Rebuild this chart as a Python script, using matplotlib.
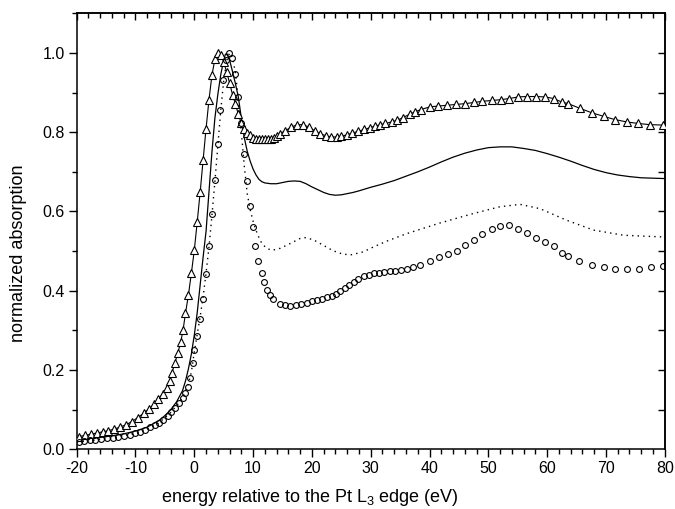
import matplotlib
matplotlib.use("Agg")
import matplotlib.pyplot as plt
from matplotlib.ticker import MultipleLocator, FixedLocator

plt.rcParams['font.family'] = ['Liberation Sans', 'DejaVu Sans']
plt.rcParams['mathtext.fontset'] = 'custom'
plt.rcParams['mathtext.rm'] = 'Liberation Sans'

# ---- data ----
tri_x = [-19.6, -18.6, -17.6, -16.6, -15.6, -14.6, -13.6, -12.6, -11.6, -10.6,
         -9.6, -8.6, -7.7, -6.8, -6.1, -5.4, -4.7, -4.2, -3.8, -3.3, -2.8, -2.3,
         -1.9, -1.5, -1.0, -0.5, 0.0, 0.5, 1.0, 1.5, 2.0, 2.5, 3.0, 3.5, 4.0,
         4.5, 5.0, 5.5, 6.0, 6.5, 7.0, 7.5, 8.0, 8.5, 9.0, 9.5, 10.0, 10.5,
         11.0, 11.5, 12.0, 12.5, 13.0, 13.5, 14.0, 14.5, 15.4, 16.4, 17.5, 18.5,
         19.5, 20.5, 21.4, 22.4, 23.3, 24.2, 25.0, 25.9, 26.9, 27.9, 28.9, 29.8,
         30.7, 31.6, 32.5, 33.6, 34.5, 35.5, 36.6, 37.5, 38.5, 40.1, 41.5, 43.0,
         44.5, 46.0, 47.6, 49.0, 50.6, 52.1, 53.6, 55.1, 56.5, 58.1, 59.6, 61.1,
         62.5, 63.6, 65.6, 67.6, 69.6, 71.5, 73.5, 75.5, 77.5, 79.7]
tri_y = [0.032, 0.035, 0.038, 0.041, 0.044, 0.047, 0.051, 0.056, 0.062, 0.070,
         0.080, 0.091, 0.102, 0.115, 0.127, 0.140, 0.154, 0.172, 0.193, 0.218, 0.243, 0.271,
         0.302, 0.343, 0.389, 0.444, 0.502, 0.574, 0.649, 0.730, 0.809, 0.882, 0.944, 0.984, 1.000,
         0.994, 0.977, 0.952, 0.924, 0.895, 0.870, 0.845, 0.822, 0.808, 0.799, 0.792, 0.786, 0.783,
         0.782, 0.782, 0.782, 0.783, 0.784, 0.786, 0.790, 0.796, 0.803, 0.812, 0.819, 0.819,
         0.813, 0.803, 0.796, 0.791, 0.788, 0.788, 0.790, 0.793, 0.798, 0.802, 0.807, 0.811,
         0.815, 0.819, 0.822, 0.826, 0.830, 0.837, 0.845, 0.851, 0.857, 0.864, 0.866, 0.868,
         0.870, 0.872, 0.875, 0.878, 0.880, 0.882, 0.885, 0.889, 0.890, 0.890, 0.889, 0.885,
         0.876, 0.872, 0.860, 0.849, 0.840, 0.832, 0.826, 0.822, 0.819, 0.818]

circ_x = [-19.6, -18.7, -17.7, -16.8, -15.8, -14.8, -13.9, -12.9, -12.0, -11.0,
          -10.1, -9.2, -8.4, -7.5, -6.7, -6.0, -5.3, -4.5, -3.9, -3.3, -2.6, -2.0,
          -1.6, -1.1, -0.7, -0.3, 0.0, 0.5, 1.0, 1.4, 2.0, 2.5, 3.0, 3.5, 3.95,
          4.45, 4.95, 5.4, 5.95, 6.45, 6.9, 7.45, 7.9, 8.45, 9.0, 9.47, 9.95, 10.4,
          10.9, 11.45, 11.9, 12.35, 12.8, 13.35, 14.5, 15.4, 16.3, 17.3, 18.2, 19.1,
          20.0, 20.9, 21.8, 22.6, 23.4, 24.1, 24.8, 25.6, 26.3, 27.1, 27.9, 28.8,
          29.7, 30.5, 31.4, 32.3, 33.2, 34.2, 35.2, 36.2, 37.2, 38.3, 40.1, 41.6,
          43.2, 44.6, 46.0, 47.5, 49.0, 50.6, 52.0, 53.6, 55.1, 56.6, 58.1, 59.6,
          61.1, 62.6, 63.6, 65.5, 67.6, 69.6, 71.5, 73.5, 75.6, 77.6, 79.7]
circ_y = [0.019, 0.021, 0.023, 0.024, 0.026, 0.028, 0.029, 0.032, 0.034, 0.037,
          0.040, 0.044, 0.049, 0.055, 0.061, 0.067, 0.075, 0.084, 0.094, 0.105, 0.117, 0.130,
          0.141, 0.158, 0.179, 0.218, 0.250, 0.286, 0.329, 0.380, 0.442, 0.512, 0.593, 0.680, 0.770,
          0.857, 0.931, 0.981, 1.000, 0.987, 0.948, 0.889, 0.822, 0.746, 0.677, 0.614, 0.561, 0.513,
          0.475, 0.445, 0.421, 0.403, 0.389, 0.378, 0.367, 0.363, 0.361, 0.363, 0.366, 0.370,
          0.373, 0.376, 0.379, 0.383, 0.387, 0.393, 0.399, 0.406, 0.414, 0.423, 0.429, 0.436,
          0.440, 0.444, 0.446, 0.448, 0.449, 0.450, 0.452, 0.455, 0.459, 0.465, 0.475, 0.484,
          0.492, 0.501, 0.515, 0.529, 0.544, 0.557, 0.563, 0.565, 0.557, 0.546, 0.534, 0.523,
          0.512, 0.495, 0.487, 0.475, 0.465, 0.459, 0.456, 0.455, 0.456, 0.459, 0.462]

solid_x = [-20, -18, -16, -14, -12, -10, -8, -6, -5, -4, -3, -2, -1.5, -1.0, -0.5,
           0.0, 0.5, 1.0, 1.5, 2.0, 2.5, 3.0, 3.5, 4.0, 4.5, 5.0, 5.3, 5.6, 6.0,
           6.5, 7.0, 7.5, 8.0, 8.5, 9.0, 9.5, 10.0, 10.5, 11.0, 11.5, 12.0, 13.0,
           14.0, 15.0, 16.0, 17.0, 18.0, 19.0, 20.0, 21.0, 22.0, 23.0, 24.0, 25.0,
           26.0, 27.0, 28.0, 30.0, 32.0, 34.0, 36.0, 38.0, 40.0, 42.0, 44.0, 46.0,
           48.0, 50.0, 52.0, 54.0, 56.0, 58.0, 60.0, 62.0, 64.0, 66.0, 68.0, 70.0,
           72.0, 74.0, 76.0, 78.0, 80.0]
solid_y = [0.024, 0.027, 0.030, 0.034, 0.039, 0.046, 0.056, 0.073, 0.085, 0.100, 0.120, 0.148, 0.172, 0.203, 0.240,
           0.288, 0.345, 0.415, 0.485, 0.550, 0.650, 0.750, 0.835, 0.895, 0.945, 0.982, 0.997, 0.997, 0.982,
           0.953, 0.922, 0.888, 0.835, 0.786, 0.752, 0.727, 0.707, 0.692, 0.681, 0.675, 0.672, 0.670,
           0.670, 0.673, 0.676, 0.677, 0.676, 0.670, 0.662, 0.655, 0.648, 0.643, 0.641, 0.642,
           0.645, 0.648, 0.652, 0.661, 0.669, 0.678, 0.689, 0.700, 0.712, 0.725, 0.737, 0.747,
           0.755, 0.761, 0.763, 0.763, 0.759, 0.754, 0.746, 0.737, 0.727, 0.716, 0.706, 0.698,
           0.692, 0.688, 0.685, 0.684, 0.683]

dot_x = [-20, -18, -16, -14, -12, -10, -8, -6, -4, -3, -2, -1, -0.5, 0.0, 0.5,
         1.0, 1.5, 2.0, 2.5, 3.0, 3.5, 4.0, 4.5, 5.0, 5.5, 6.0, 6.5, 7.0, 7.5,
         8.0, 8.5, 9.0, 9.5, 10.0, 10.5, 11.0, 11.5, 12.3, 13.2, 14.6, 16.3, 18.0,
         18.8, 20.2, 21.9, 23.6, 25.3, 26.8, 28.7, 30.4, 32.7, 36.1, 41.8, 47.5,
         52.0, 55.4, 58.8, 63.3, 67.9, 73.0, 79.2, 80.0]
dot_y = [0.018, 0.021, 0.025, 0.028, 0.034, 0.040, 0.051, 0.067, 0.093, 0.110, 0.130, 0.165, 0.195, 0.245, 0.290,
         0.335, 0.385, 0.445, 0.510, 0.590, 0.675, 0.765, 0.855, 0.930, 0.980, 1.000, 0.988, 0.950, 0.880,
         0.800, 0.715, 0.645, 0.605, 0.575, 0.552, 0.534, 0.519, 0.507, 0.502, 0.507, 0.519, 0.532,
         0.534, 0.529, 0.515, 0.501, 0.492, 0.491, 0.498, 0.510, 0.525, 0.544, 0.571, 0.595,
         0.612, 0.618, 0.607, 0.578, 0.553, 0.540, 0.536, 0.536]

xlim = (-20, 80)
ylim = (0.0, 1.1)
xticks = [-20, -10, 0, 10, 20, 30, 40, 50, 60, 70, 80]
yticks = [0.0, 0.2, 0.4, 0.6, 0.8, 1.0]

# ---- figure ----
fig = plt.figure(figsize=(6.75, 5.09), dpi=100)
ax = fig.add_axes([0.1136, 0.1173, 0.8712, 0.8566])

ax.plot(solid_x, solid_y, color='black', lw=0.9, zorder=2)
ax.plot(dot_x, dot_y, color='black', lw=1.0, linestyle=(0, (1, 3)), zorder=2)
ax.plot(tri_x, tri_y, color='black', lw=0.8, marker='^', markersize=5.4,
        markerfacecolor='white', markeredgecolor='black', markeredgewidth=0.8, zorder=3)
ax.plot(circ_x, circ_y, linestyle='none', marker='o', markersize=4.2,
        markerfacecolor='none', markeredgecolor='black', markeredgewidth=0.8, zorder=3)

ax.set_xlim(*xlim)
ax.set_ylim(*ylim)
ax.set_xticks(xticks)
ax.set_yticks(yticks)
ax.set_xticklabels([f"{t:d}" for t in xticks])
ax.set_yticklabels([f"{t:.1f}" for t in yticks])
ax.xaxis.set_minor_locator(MultipleLocator(2))
ax.yaxis.set_minor_locator(MultipleLocator(0.1))
ax.tick_params(axis='both', which='major', direction='out', length=5.5, width=1.0,
               labelsize=11.5, pad=3)
ax.tick_params(axis='both', which='minor', direction='out', length=3.5, width=1.0)
for s in ax.spines.values():
    s.set_linewidth(1.1)

# mirror ticks (inward) on top and right
top = ax.secondary_xaxis('top')
top.set_xticks(xticks)
top.xaxis.set_minor_locator(MultipleLocator(2))
top.tick_params(which='major', direction='in', length=5, width=1.0, labeltop=False)
top.tick_params(which='minor', direction='in', length=3.5, width=1.0)
top.spines['top'].set_linewidth(1.1)

right = ax.secondary_yaxis('right')
right.set_yticks([0.1, 0.2, 0.3, 0.4, 0.5, 0.6, 0.7, 0.8, 0.9, 1.0])
right.yaxis.set_minor_locator(FixedLocator([]))
right.tick_params(which='major', direction='in', length=5, width=1.0, labelright=False)
right.spines['right'].set_linewidth(1.1)

fig.text(0.459, 0.022, 'energy relative to the Pt L$_3$ edge (eV)', ha='center', va='center',
         fontsize=13)
fig.text(0.027, 0.502, 'normalized absorption', ha='center', va='center', rotation=90,
         fontsize=13)

fig.savefig('out.png', dpi=100)
